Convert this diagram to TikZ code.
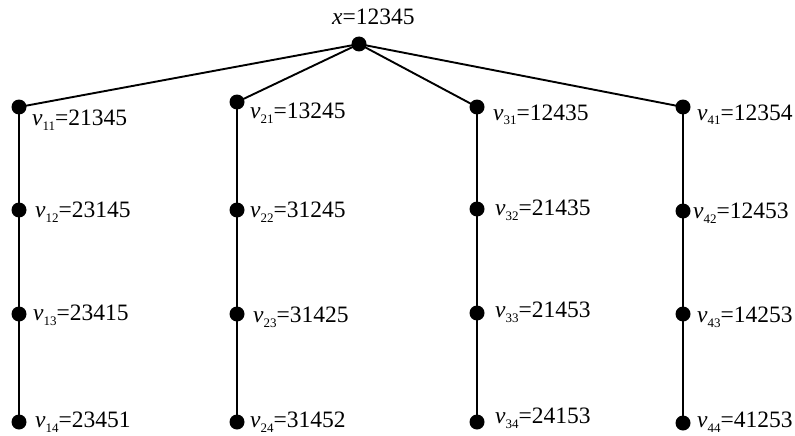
\documentclass[tikz,border=0pt]{standalone}
\usepackage{fontspec}
\setmainfont{Liberation Serif}
\newcommand{\vlab}[2]{\textit{v}\raisebox{-5pt}{\fontsize{13}{13}\selectfont #1}=#2}
\begin{document}
\begin{tikzpicture}[x=1pt,y=-1pt,
  dotn/.style={circle,fill=black,inner sep=0pt,minimum size=15pt},
  edge/.style={line width=1.9pt},
  lab/.style={anchor=base west,inner sep=0pt,font=\fontsize{23.5}{26}\selectfont}]
\useasboundingbox (0,0) rectangle (795,436);
% dots
\node[dotn] (r) at (359,44) {};
\node[dotn] (a1) at (19,107) {};
\node[dotn] (a2) at (19,210) {};
\node[dotn] (a3) at (19,314) {};
\node[dotn] (a4) at (19,422) {};
\node[dotn] (b1) at (237,102) {};
\node[dotn] (b2) at (237,210) {};
\node[dotn] (b3) at (237,314) {};
\node[dotn] (b4) at (237,422) {};
\node[dotn] (c1) at (477,107) {};
\node[dotn] (c2) at (477,209) {};
\node[dotn] (c3) at (477,313) {};
\node[dotn] (c4) at (477,422) {};
\node[dotn] (d1) at (683,107) {};
\node[dotn] (d2) at (683,211) {};
\node[dotn] (d3) at (683,314) {};
\node[dotn] (d4) at (683,423) {};
% edges
\draw[edge] (r.center) -- (a1.center);
\draw[edge] (r.center) -- (b1.center);
\draw[edge] (r.center) -- (c1.center);
\draw[edge] (r.center) -- (d1.center);
\draw[edge] (a1.center) -- (a2.center) -- (a3.center) -- (a4.center);
\draw[edge] (b1.center) -- (b2.center) -- (b3.center) -- (b4.center);
\draw[edge] (c1.center) -- (c2.center) -- (c3.center) -- (c4.center);
\draw[edge] (d1.center) -- (d2.center) -- (d3.center) -- (d4.center);
% labels
\node[lab] (lr) at (332,25) {\textit{x}=12345};
\node[lab] (la1) at (32,125) {\vlab{11}{21345}};
\node[lab] (la2) at (35,217) {\vlab{12}{23145}};
\node[lab] (la3) at (33,320) {\vlab{13}{23415}};
\node[lab] (la4) at (35,427) {\vlab{14}{23451}};
\node[lab] (lb1) at (250,118) {\vlab{21}{13245}};
\node[lab] (lb2) at (250,217) {\vlab{22}{31245}};
\node[lab] (lb3) at (253,322) {\vlab{23}{31425}};
\node[lab] (lb4) at (250,427) {\vlab{24}{31452}};
\node[lab] (lc1) at (493,120) {\vlab{31}{12435}};
\node[lab] (lc2) at (495,215) {\vlab{32}{21435}};
\node[lab] (lc3) at (495,317) {\vlab{33}{21453}};
\node[lab] (lc4) at (495,423) {\vlab{34}{24153}};
\node[lab] (ld1) at (697,120) {\vlab{41}{12354}};
\node[lab] (ld2) at (693,218) {\vlab{42}{12453}};
\node[lab] (ld3) at (697,322) {\vlab{43}{14253}};
\node[lab] (ld4) at (697,427) {\vlab{44}{41253}};
\end{tikzpicture}
\end{document}
